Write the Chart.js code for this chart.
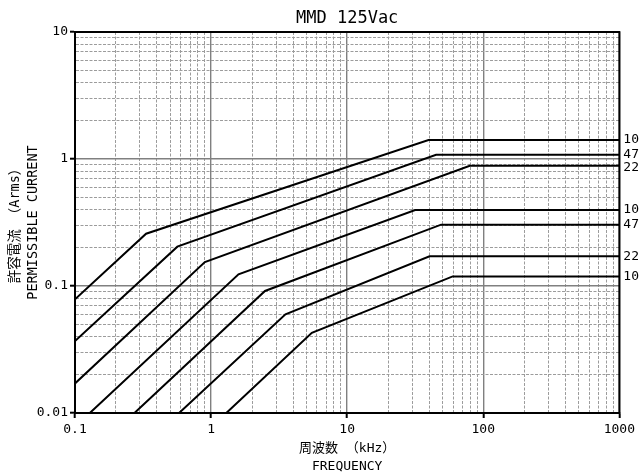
<!DOCTYPE html>
<html><head><meta charset="utf-8">
<script src="https://cdn.jsdelivr.net/npm/chart.js@4"></script>
<style>html,body{margin:0;padding:0;background:#fff}#wrap{width:639px;height:476px}</style>
</head><body><div id="wrap"><canvas id="c" width="639" height="476"></canvas></div>
<script>
// ---- data ----
const titleText = 'MMD 125Vac';
const xAxisTitle = ['周波数 （kHz）', 'FREQUENCY'];
const yAxisTitle = ['許容電流 （Arms）', 'PERMISSIBLE CURRENT'];
const xTickValues = [0.1, 1, 10, 100, 1000];
const xTickLabels = ['0.1', '1', '10', '100', '1000'];
const yTickValues = [0.01, 0.1, 1, 10];
const yTickLabels = ['0.01', '0.1', '1', '10'];
const gridMantissas = [1, 2, 3, 4, 5, 6, 7, 8, 9];
const seriesLabels = ['10', '47', '22', '10', '47', '22', '10'];

const freq1 = [0.1, 0.333, 39.6, 1000];   const curr1 = [0.0785, 0.258, 1.41, 1.41];
const freq2 = [0.1, 0.565, 45, 1000];     const curr2 = [0.0369, 0.204, 1.08, 1.08];
const freq3 = [0.1, 0.90, 79.6, 1000];    const curr3 = [0.0171, 0.1545, 0.885, 0.885];
const freq4 = [0.1285, 1.59, 31.6, 1000]; const curr4 = [0.01, 0.1236, 0.396, 0.396];
const freq5 = [0.2735, 2.49, 49, 1000];   const curr5 = [0.01, 0.0914, 0.304, 0.304];
const freq6 = [0.582, 3.52, 40.3, 1000];  const curr6 = [0.01, 0.0598, 0.1714, 0.1714];
const freq7 = [1.294, 5.5, 59.6, 1000];   const curr7 = [0.01, 0.0428, 0.119, 0.119];

const seriesFreq = [freq1, freq2, freq3, freq4, freq5, freq6, freq7];
const seriesCurr = [curr1, curr2, curr3, curr4, curr5, curr6, curr7];

// ---- helpers ----
const MONO = "'DejaVu Sans Mono', 'Noto Sans CJK JP', monospace";
function gridValues(decades) {
  const out = [];
  for (let i = 0; i < decades.length; i++) {
    if (i === decades.length - 1) { out.push(decades[i]); break; }
    gridMantissas.forEach(m => out.push(+(decades[i] * m).toPrecision(6)));
  }
  return out;
}
function majorIndex(v, vals) {
  for (let i = 0; i < vals.length; i++) if (Math.abs(v / vals[i] - 1) < 1e-6) return i;
  return -1;
}
function axisOpts(vals, labels, isX) {
  return {
    type: 'logarithmic',
    min: vals[0], max: vals[vals.length - 1],
    afterBuildTicks: s => { s.ticks = gridValues(vals).map(v => ({ value: v })); },
    afterFit: s => { if (isX) s.height = 63; else s.width = 75; },
    ticks: {
      autoSkip: false, maxRotation: 0, minRotation: 0,
      padding: isX ? 4 : 2,
      color: '#000',
      font: { family: MONO, size: 13 },
      callback: v => { const i = majorIndex(v, vals); return i >= 0 ? labels[i] : ''; }
    },
    grid: {
      color: c => (c.tick && majorIndex(c.tick.value, vals) >= 0) ? '#808080' : '#9c9c9c',
      lineWidth: c => (c.tick && majorIndex(c.tick.value, vals) >= 0) ? 1.4 : 1,
      tickLength: 5,
      tickWidth: 2,
      tickColor: c => (c.tick && majorIndex(c.tick.value, vals) >= 0) ? '#000' : 'rgba(0,0,0,0)'
    },
    border: {
      display: true, color: '#000', width: 2,
      dash: c => (c.tick && majorIndex(c.tick.value, vals) < 0) ? [3, 1.5] : []
    },
    title: isX ? {
      display: true, text: xAxisTitle, color: '#000',
      font: { family: MONO, size: 13, lineHeight: 1.35 },
      padding: { top: 0, bottom: 1 }
    } : {
      display: true, text: yAxisTitle, color: '#000',
      font: { family: MONO, size: 13.5, lineHeight: 1.3 },
      padding: { top: 7, bottom: 0 }
    }
  };
}

const frameAndLabels = {
  id: 'frameAndLabels',
  afterDraw(chart) {
    const { ctx, chartArea: a } = chart;
    ctx.save();
    ctx.strokeStyle = '#000';
    ctx.lineWidth = 2;
    ctx.strokeRect(a.left, a.top, a.right - a.left, a.bottom - a.top);
    ctx.fillStyle = '#000';
    ctx.font = '13px ' + MONO;
    ctx.textAlign = 'left';
    ctx.textBaseline = 'middle';
    let prev = -1e9;
    chart.data.datasets.forEach((ds, i) => {
      const pts = chart.getDatasetMeta(i).data;
      const p = pts[pts.length - 1];
      let y = p.y;
      if (y - prev < 13) y = prev + 13;
      prev = y;
      ctx.fillText(seriesLabels[i], a.right + 4, y);
    });
    ctx.restore();
  }
};

new Chart(document.getElementById('c'), {
  type: 'line',
  data: {
    datasets: seriesFreq.map((f, i) => ({
      label: seriesLabels[i],
      data: f.map((x, j) => ({ x: x, y: seriesCurr[i][j] })),
      borderColor: '#000', borderWidth: 2, pointRadius: 0, tension: 0, fill: false
    }))
  },
  options: {
    responsive: false, animation: false, devicePixelRatio: 1,
    layout: { padding: { left: 0, right: 16, top: 0, bottom: 0 } },
    plugins: {
      legend: { display: false },
      tooltip: { enabled: false },
      title: {
        display: true, text: titleText, fullSize: false, color: '#000',
        font: { family: MONO, size: 17, weight: 'normal', lineHeight: 1.2 },
        padding: { top: 8.5, bottom: 3.1 }
      }
    },
    scales: {
      x: axisOpts(xTickValues, xTickLabels, true),
      y: axisOpts(yTickValues, yTickLabels, false)
    }
  },
  plugins: [frameAndLabels]
});
</script>
</body></html>
